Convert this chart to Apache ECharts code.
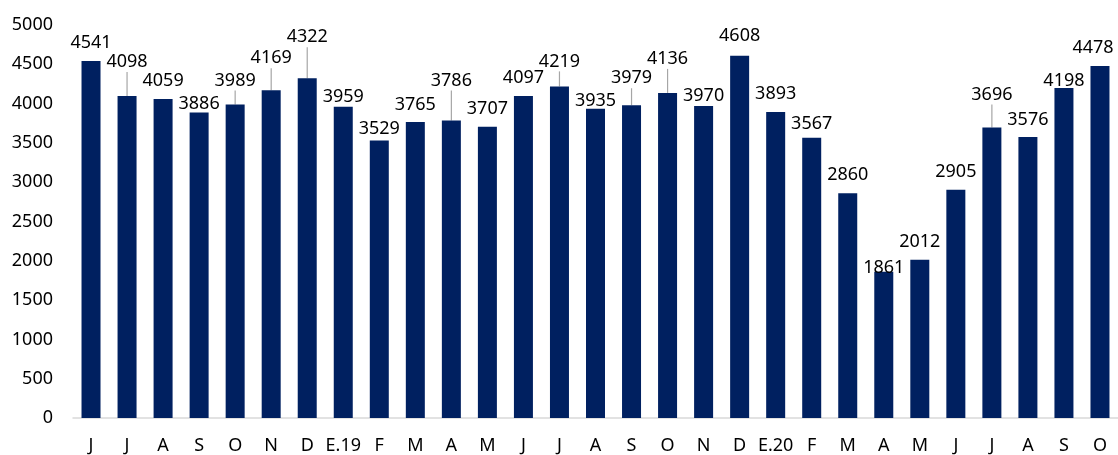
<!DOCTYPE html>
<html>
<head>
<meta charset="utf-8">
<script src="https://cdn.jsdelivr.net/npm/echarts@6/dist/echarts.min.js"></script>
<style>
	html, body { margin: 0; padding: 0; background: #fff; }
	#chart { width: 1118px; height: 455px; }
</style>
</head>
<body>
<div id="chart"></div>
<script>
	// meses (jun 2018 - oct 2020)
	const months = ["J", "J", "A", "S", "O", "N", "D", "E.19", "F", "M", "A", "M", "J", "J", "A", "S", "O", "N", "D", "E.20", "F", "M", "A", "M", "J", "J", "A", "S", "O"];
	const values = [4541, 4098, 4059, 3886, 3989, 4169, 4322, 3959, 3529, 3765, 3786, 3707, 4097, 4219, 3935, 3979, 4136, 3970, 4608, 3893, 3567, 2860, 1861, 2012, 2905, 3696, 3576, 4198, 4478];
	const yTicks = [0, 500, 1000, 1500, 2000, 2500, 3000, 3500, 4000, 4500, 5000];

	// etiquetas desplazadas a mano (px), las que llevan linea guia
	const labelShift = {1: -16, 3: 9, 4: -6, 5: -14, 6: -23, 7: 8, 8: 6, 9: 1, 10: -22, 13: -7, 14: 10, 15: -9, 16: -16, 17: 8, 18: -2, 20: 4, 22: 14, 25: -15, 26: 1, 27: 11};
	const labelShiftX = {28: -7};
	const leaderIdx = [1, 4, 5, 6, 10, 13, 15, 16, 25];

	const font = "'Noto Sans', 'Open Sans', sans-serif";
	const myChart = echarts.init(document.getElementById("chart"));
	const option = {
		animation: false,
		grid: {
			left: 73,
			top: 25,
			width: 1050,
			height: 394
		},
		xAxis: {
			type: "category",
			data: months,
			axisLine: {
				show: true,
				lineStyle: { color: "#d9d9d9", width: 1.5 }
			},
			axisTick: { show: false },
			axisLabel: {
				color: "#000",
				fontSize: 18,
				fontFamily: font,
				interval: 0,
				margin: 19
			}
		},
		yAxis: {
			type: "value",
			min: yTicks[0],
			max: yTicks[yTicks.length - 1],
			interval: 500,
			axisLine: { show: false },
			axisTick: { show: false },
			splitLine: { show: false },
			axisLabel: {
				color: "#000",
				fontSize: 18,
				fontFamily: font,
				margin: 20,
				formatter: (v) => String(v)
			}
		},
		series: [{
			type: "bar",
			data: values.map((v, i) => ({
				value: v,
				labelLine: { show: leaderIdx.includes(i) }
			})),
			barWidth: 19,
			itemStyle: { color: "#002060" },
			label: {
				show: true,
				position: "top",
				distance: 8,
				color: "#000",
				fontSize: 18,
				lineHeight: 20,
				fontFamily: font
			},
			labelLine: {
				show: false,
				lineStyle: { color: "#a6a6a6", width: 1.2 }
			},
			labelLayout: function(params) {
				return {
					dx: labelShiftX[params.dataIndex] || 0,
					dy: labelShift[params.dataIndex] || 0
				};
			}
		}]
	};
	myChart.setOption(option);
</script>
</body>
</html>
